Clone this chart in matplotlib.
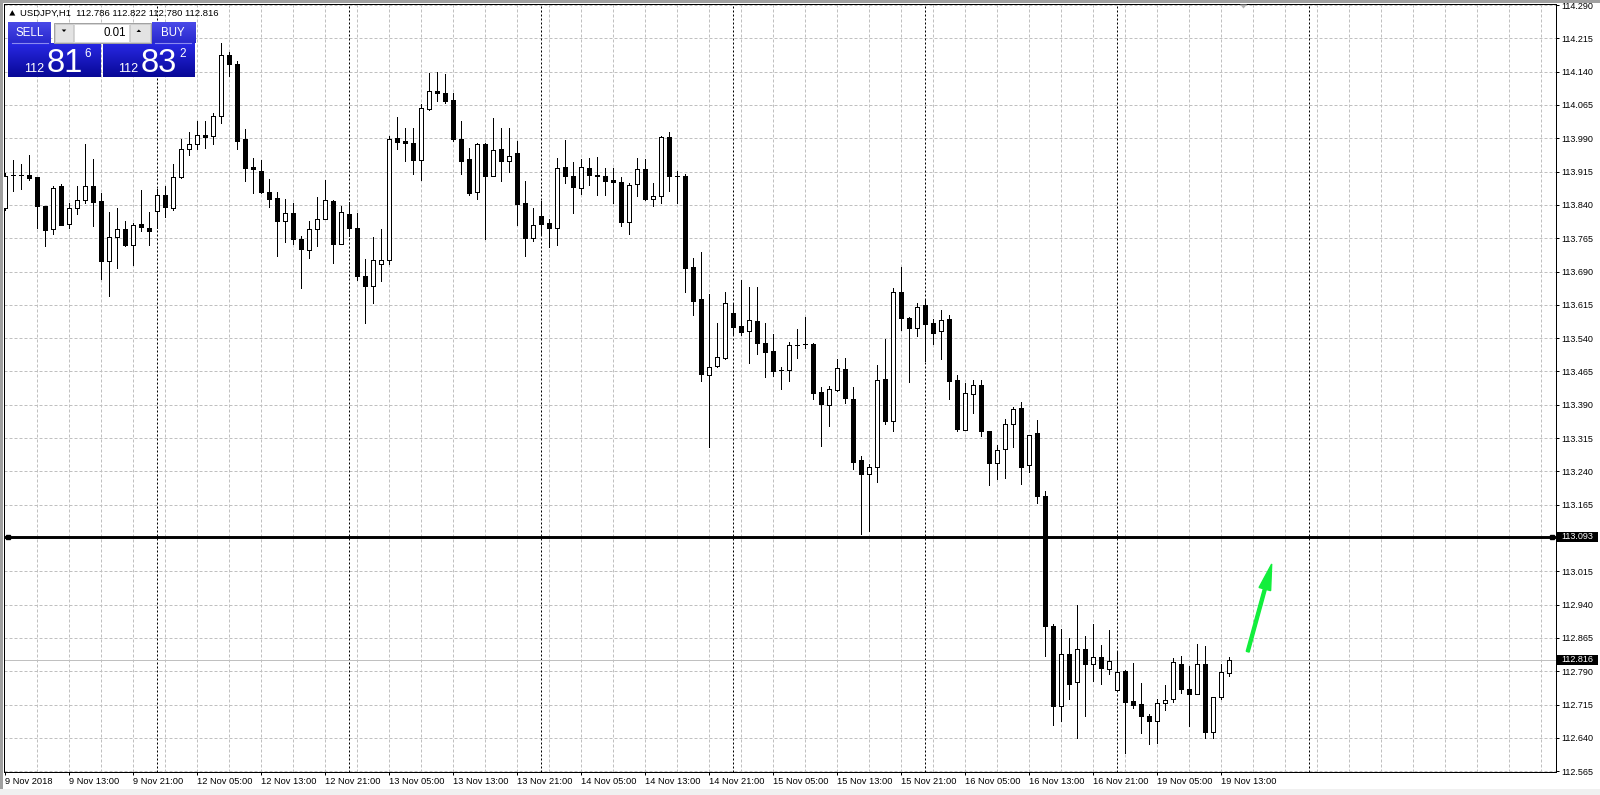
import matplotlib
matplotlib.use('Agg')
import matplotlib.pyplot as plt
from matplotlib.patches import Rectangle, Polygon, FancyArrow
from matplotlib.transforms import blended_transform_factory
import numpy as np

plt.rcParams['font.family'] = ['Liberation Sans', 'DejaVu Sans']

# ---------------- data (USDJPY H1, bar 0 = 9 Nov 2018 05:00) ----------------
opens = [113.834, 113.907, 113.907, 113.907, 113.902, 113.837, 113.785, 113.882, 113.798, 113.834,
         113.850, 113.882, 113.848, 113.713, 113.767, 113.785, 113.750, 113.796, 113.789, 113.827,
         113.863, 113.834, 113.902, 113.966, 113.976, 113.997, 113.994, 114.041, 114.177, 114.158,
         113.988, 113.925, 113.917, 113.870, 113.856, 113.804, 113.821, 113.764, 113.739, 113.785,
         113.809, 113.848, 113.753, 113.819, 113.789, 113.680, 113.658, 113.706, 113.715, 113.990,
         113.984, 113.980, 113.942, 114.055, 114.096, 114.091, 114.077, 113.989, 113.943, 113.870,
         113.976, 113.905, 113.965, 113.938, 113.956, 113.845, 113.766, 113.815, 113.799, 113.789,
         113.926, 113.906, 113.879, 113.924, 113.908, 113.904, 113.895, 113.892, 113.802, 113.886,
         113.920, 113.854, 113.861, 113.992, 113.906, 113.904, 113.701, 113.628, 113.458, 113.478,
         113.496, 113.596, 113.568, 113.557, 113.578, 113.529, 113.510, 113.468, 113.469, 113.524,
         113.527, 113.527, 113.418, 113.390, 113.423, 113.471, 113.403, 113.265, 113.235, 113.250,
         113.447, 113.353, 113.645, 113.586, 113.563, 113.614, 113.574, 113.556, 113.582, 113.445,
         113.334, 113.415, 113.434, 113.330, 113.260, 113.291, 113.347, 113.383, 113.255, 113.327,
         113.184, 112.891, 112.712, 112.830, 112.765, 112.841, 112.807, 112.822, 112.796, 112.747,
         112.790, 112.723, 112.717, 112.689, 112.677, 112.719, 112.727, 112.807, 112.751, 112.740,
         112.807, 112.653, 112.733, 112.786]

highs = [113.912, 113.940, 113.932, 113.952, 113.903, 113.838, 113.883, 113.886, 113.845, 113.883,
         113.977, 113.943, 113.866, 113.824, 113.832, 113.804, 113.800, 113.873, 113.823, 113.875,
         113.883, 113.933, 113.988, 114.003, 114.029, 114.029, 114.046, 114.204, 114.185, 114.164,
         114.010, 113.945, 113.940, 113.898, 113.868, 113.854, 113.844, 113.769, 113.803, 113.857,
         113.896, 113.851, 113.838, 113.847, 113.821, 113.718, 113.767, 113.785, 113.995, 114.037,
         114.013, 114.014, 114.067, 114.136, 114.140, 114.134, 114.091, 114.028, 113.967, 113.979,
         113.979, 114.035, 114.013, 114.014, 113.983, 113.893, 113.833, 113.848, 113.808, 113.945,
         113.986, 113.937, 113.943, 113.945, 113.947, 113.923, 113.924, 113.902, 113.890, 113.945,
         113.943, 113.890, 113.995, 114.003, 113.916, 113.909, 113.720, 113.733, 113.639, 113.575,
         113.643, 113.617, 113.671, 113.656, 113.656, 113.574, 113.549, 113.476, 113.532, 113.560,
         113.588, 113.528, 113.429, 113.433, 113.492, 113.495, 113.430, 113.274, 113.257, 113.480,
         113.538, 113.652, 113.700, 113.587, 113.619, 113.628, 113.583, 113.604, 113.591, 113.458,
         113.439, 113.445, 113.445, 113.330, 113.299, 113.357, 113.385, 113.396, 113.323, 113.355,
         113.197, 112.897, 112.885, 112.864, 112.939, 112.869, 112.896, 112.849, 112.884, 112.834,
         112.794, 112.809, 112.764, 112.693, 112.728, 112.760, 112.819, 112.824, 112.801, 112.851,
         112.846, 112.732, 112.806, 112.822]

lows = [113.828, 113.872, 113.875, 113.896, 113.789, 113.748, 113.774, 113.794, 113.788, 113.819,
        113.845, 113.793, 113.673, 113.634, 113.698, 113.748, 113.705, 113.782, 113.750, 113.789,
        113.812, 113.829, 113.901, 113.953, 113.965, 113.969, 113.977, 114.025, 114.130, 113.965,
        113.894, 113.867, 113.866, 113.836, 113.725, 113.757, 113.752, 113.653, 113.720, 113.748,
        113.808, 113.709, 113.752, 113.770, 113.671, 113.574, 113.619, 113.669, 113.708, 113.965,
        113.939, 113.909, 113.896, 114.054, 114.074, 114.069, 113.984, 113.909, 113.862, 113.853,
        113.763, 113.904, 113.894, 113.914, 113.795, 113.725, 113.758, 113.773, 113.746, 113.750,
        113.889, 113.821, 113.864, 113.884, 113.862, 113.862, 113.845, 113.793, 113.774, 113.860,
        113.851, 113.838, 113.844, 113.872, 113.845, 113.643, 113.592, 113.444, 113.294, 113.474,
        113.493, 113.549, 113.548, 113.485, 113.504, 113.452, 113.454, 113.425, 113.444, 113.495,
        113.518, 113.404, 113.298, 113.343, 113.422, 113.393, 113.245, 113.100, 113.105, 113.216,
        113.346, 113.332, 113.559, 113.441, 113.544, 113.488, 113.527, 113.492, 113.403, 113.331,
        113.333, 113.371, 113.320, 113.210, 113.222, 113.225, 113.295, 113.211, 113.239, 113.170,
        112.825, 112.669, 112.678, 112.727, 112.639, 112.690, 112.768, 112.762, 112.785, 112.746,
        112.605, 112.707, 112.652, 112.627, 112.629, 112.702, 112.722, 112.742, 112.667, 112.740,
        112.639, 112.639, 112.728, 112.780]

closes = [113.905, 113.907, 113.907, 113.901, 113.838, 113.784, 113.879, 113.795, 113.834, 113.850,
          113.882, 113.847, 113.713, 113.767, 113.785, 113.750, 113.794, 113.790, 113.782, 113.863,
          113.836, 113.902, 113.965, 113.976, 113.997, 113.992, 114.041, 114.177, 114.158, 113.984,
          113.924, 113.920, 113.869, 113.854, 113.804, 113.821, 113.764, 113.740, 113.785, 113.809,
          113.850, 113.753, 113.825, 113.789, 113.680, 113.658, 113.717, 113.715, 113.989, 113.982,
          113.980, 113.941, 114.057, 114.097, 114.091, 114.074, 113.988, 113.939, 113.866, 113.976,
          113.905, 113.963, 113.939, 113.951, 113.842, 113.766, 113.794, 113.798, 113.789, 113.924,
          113.905, 113.881, 113.926, 113.908, 113.904, 113.894, 113.892, 113.802, 113.884, 113.920,
          113.853, 113.861, 113.992, 113.905, 113.905, 113.699, 113.624, 113.460, 113.476, 113.497,
          113.620, 113.565, 113.554, 113.580, 113.528, 113.508, 113.467, 113.468, 113.524, 113.525,
          113.527, 113.416, 113.391, 113.425, 113.473, 113.405, 113.261, 113.235, 113.250, 113.446,
          113.354, 113.645, 113.585, 113.562, 113.610, 113.572, 113.551, 113.581, 113.443, 113.335,
          113.417, 113.434, 113.331, 113.260, 113.289, 113.347, 113.381, 113.250, 113.323, 113.185,
          112.892, 112.712, 112.830, 112.762, 112.841, 112.807, 112.822, 112.798, 112.813, 112.789,
          112.721, 112.715, 112.689, 112.678, 112.719, 112.726, 112.810, 112.751, 112.738, 112.807,
          112.653, 112.732, 112.789, 112.816]

x_tick_labels = ['9 Nov 2018', '9 Nov 13:00', '9 Nov 21:00', '12 Nov 05:00', '12 Nov 13:00',
                 '12 Nov 21:00', '13 Nov 05:00', '13 Nov 13:00', '13 Nov 21:00', '14 Nov 05:00',
                 '14 Nov 13:00', '14 Nov 21:00', '15 Nov 05:00', '15 Nov 13:00', '15 Nov 21:00',
                 '16 Nov 05:00', '16 Nov 13:00', '16 Nov 21:00', '19 Nov 05:00', '19 Nov 13:00']
x_tick_bars = list(range(0, 8 * len(x_tick_labels), 8))
day_separator_bars = [19, 43, 67, 91, 115, 139, 163]
price_grid = [round(112.565 + 0.075 * k, 3) for k in range(24)]
hline_level = 113.093
bid_level = 112.816
title_text = 'USDJPY,H1  112.786 112.822 112.780 112.816'

# ---------------- figure / axes geometry (pixels) ----------------
W, H = 1600, 795
fig = plt.figure(figsize=(W / 100, H / 100), dpi=100)
fig.patch.set_facecolor('white')

L_PX, R_PX, T_PX, B_PX = 3.5, 1556.0, 3.5, 771.5
ax = fig.add_axes([L_PX / W, 1 - B_PX / H, (R_PX - L_PX) / W, (B_PX - T_PX) / H])
PPU = 444.2          # pixels per 1.000 price unit
Y_TOP = 5.0          # pixel row of 114.290
TOP_PRICE = 114.290
ax.set_ylim(TOP_PRICE - (B_PX - Y_TOP) / PPU, TOP_PRICE + (Y_TOP - T_PX) / PPU)
X0, BAR_PX = 5.0, 8.0
ax.set_xlim((L_PX - X0) / BAR_PX, (R_PX - X0) / BAR_PX)
ax.set_facecolor('white')

grid_c = '#c0c0c0'
for v in price_grid:
    ax.axhline(v, color=grid_c, lw=0.72, ls=(0, (3, 2)), zorder=1)
for b in range(4, 193, 4):
    ax.axvline(b, color=grid_c, lw=0.72, ls=(0, (3, 2)), zorder=1)
for b in day_separator_bars:
    ax.axvline(b, color='black', lw=0.72, ls=(0, (2, 2)), zorder=1.5)

# bid line
ax.axhline(bid_level, color='#c0c0c0', lw=0.72, zorder=2)

# candles
o = np.array(opens); h = np.array(highs); l = np.array(lows); c = np.array(closes)
xs = np.arange(len(o))
up = c >= o
ax.vlines(xs, l, h, color='black', lw=0.72, zorder=3, antialiased=False)
ax.bar(xs[up], c[up] - o[up], bottom=o[up], width=0.5, color='white',
       edgecolor='black', linewidth=0.72, zorder=4, antialiased=False)
ax.bar(xs[~up], o[~up] - c[~up], bottom=c[~up], width=0.5, color='black',
       edgecolor='black', linewidth=0.72, zorder=4, antialiased=False)

# horizontal level line
ax.axhline(hline_level, color='black', lw=2.1, zorder=5)
ax.plot([(7.5 - X0) / BAR_PX, (1551.5 - X0) / BAR_PX], [hline_level, hline_level], 's',
        ms=3.2, color='black', zorder=6)

# axes / ticks
for s in ax.spines.values():
    s.set_color('black'); s.set_linewidth(0.72)
ax.yaxis.tick_right()
ax.set_yticks(price_grid)
ax.set_yticklabels([f'{v:.3f}' for v in price_grid])
ax.tick_params(axis='y', direction='out', length=2.2, width=0.72, pad=1.8,
               labelsize=6.5, colors='black')
ax.set_xticks(x_tick_bars)
ax.set_xticklabels(x_tick_labels, ha='left')
ax.tick_params(axis='x', direction='out', length=2.2, width=0.72, pad=1.6,
               labelsize=6.7, colors='black')

# price boxes on the right scale
trans = blended_transform_factory(ax.transAxes, ax.transData)
bx0 = (1556.7 - L_PX) / (R_PX - L_PX)
bx1 = (1598.5 - L_PX) / (R_PX - L_PX)
for v in [hline_level, bid_level]:
    ax.add_patch(Rectangle((bx0, v - 4.8 / PPU), bx1 - bx0, 9.6 / PPU, transform=trans,
                           facecolor='black', edgecolor='none', clip_on=False, zorder=10))
    ax.annotate(f'{v:.3f}', xy=(1.0, v), xycoords=trans, xytext=(4.0, 0),
                textcoords='offset points', ha='left', va='center', fontsize=6.5,
                color='white', annotation_clip=False, zorder=11)

# ---------------- overlay (pixel coordinates) ----------------
ax2 = fig.add_axes([0, 0, 1, 1], zorder=10)
ax2.set_xlim(0, W); ax2.set_ylim(H, 0)
ax2.axis('off')
ax2.patch.set_alpha(0)

# window frame
ax2.add_patch(Rectangle((0, 0), W, 2.6, facecolor='#a0a0a0', edgecolor='none'))
ax2.add_patch(Rectangle((0, 0), 2.6, 789, facecolor='#a0a0a0', edgecolor='none'))
ax2.add_patch(Rectangle((0, 788.5), W, 7, facecolor='#f0f0f0', edgecolor='none'))

# chart-shift marker
ax2.add_patch(Polygon([(1240, 4.5), (1247, 4.5), (1243.5, 8.5)], closed=True,
                      facecolor='#b0b0b0', edgecolor='none'))

# title
ax2.add_patch(Polygon([(9.3, 15.6), (15.3, 15.6), (12.3, 10.2)], closed=True,
                      facecolor='black', edgecolor='none'))
ax2.text(20, 13.6, title_text, fontsize=6.8, color='black', ha='left', va='center')


def grad(x0, y0, x1, y1, ctop, cbot):
    t = np.linspace(0, 1, 64)[:, None, None]
    arr = (np.array(ctop)[None, None, :] * (1 - t) + np.array(cbot)[None, None, :] * t) / 255.0
    ax2.imshow(arr, extent=(x0, x1, y1, y0), aspect='auto', interpolation='bilinear', zorder=2)


btn_top, btn_bot = (74, 74, 232), (40, 40, 205)
box_top, box_bot = (40, 40, 228), (8, 8, 150)
# SELL side
grad(8.3, 22.7, 50.7, 43.5, btn_top, btn_bot)
grad(8.3, 43.5, 100.7, 77.5, box_top, box_bot)
# BUY side
grad(151.7, 22.7, 195.0, 43.5, btn_top, btn_bot)
grad(103.3, 43.5, 194.5, 77.5, box_top, box_bot)
ax2.plot([11.7, 48.3], [43.3, 43.3], color='#8a8af0', lw=0.8, zorder=3)
ax2.plot([155.0, 191.0], [43.3, 43.3], color='#8a8af0', lw=0.8, zorder=3)
ax2.text(29.5, 32.8, 'SELL', fontsize=8.3, color='white', ha='center', va='center', zorder=4)
ax2.text(172.5, 32.8, 'BUY', fontsize=8.3, color='white', ha='center', va='center', zorder=4)

# lot-size control
ax2.add_patch(Rectangle((54, 22.7), 96.7, 20, facecolor='#f0f0f0', edgecolor='#a0a0a0', lw=0.7, zorder=3))
ax2.add_patch(Rectangle((55, 23.7), 18.3, 18, facecolor='#e3e3e3', edgecolor='#c8c8c8', lw=0.6, zorder=3))
ax2.add_patch(Rectangle((74, 23.7), 55.3, 18, facecolor='white', edgecolor='#d0d0d0', lw=0.6, zorder=3))
ax2.add_patch(Rectangle((130, 23.7), 19.7, 18, facecolor='#e3e3e3', edgecolor='#c8c8c8', lw=0.6, zorder=3))
ax2.add_patch(Polygon([(61.7, 29.5), (66.3, 29.5), (64, 32)], closed=True, facecolor='black', zorder=4))
ax2.add_patch(Polygon([(136.5, 32), (141.1, 32), (138.8, 29.5)], closed=True, facecolor='black', zorder=4))
ax2.text(125.5, 32.8, '0.01', fontsize=8.3, color='black', ha='right', va='center', zorder=4)

# prices
ax2.text(24.5, 71.8, '112', fontsize=9, color='white', ha='left', va='baseline', zorder=4)
ax2.text(46.5, 71.8, '81', fontsize=23.5, color='white', ha='left', va='baseline', zorder=4)
ax2.text(84.5, 56.8, '6', fontsize=8.4, color='white', ha='left', va='baseline', zorder=4)
ax2.text(118.5, 71.8, '112', fontsize=9, color='white', ha='left', va='baseline', zorder=4)
ax2.text(141.0, 71.8, '83', fontsize=23.5, color='white', ha='left', va='baseline', zorder=4)
ax2.text(179.5, 56.8, '2', fontsize=8.4, color='white', ha='left', va='baseline', zorder=4)

# green arrow
ax2.add_patch(FancyArrow(1247.7, 651.7, 24.0, -87.7, width=3.0, head_width=12, head_length=26,
                         length_includes_head=True, color='#12ee3c', zorder=5))

ax2.set_xlim(0, W); ax2.set_ylim(H, 0)
fig.savefig('out.png', dpi=100)
